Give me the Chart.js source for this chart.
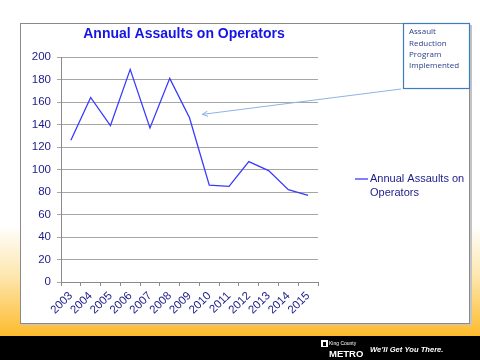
<!DOCTYPE html>
<html>
<head>
<meta charset="utf-8">
<script src="https://cdn.jsdelivr.net/npm/chart.js@4.4.1/dist/chart.umd.min.js"></script>
<style>
  html, body { margin: 0; padding: 0; background: #fff; }
  #wrap { position: relative; width: 480px; height: 360px; }
</style>
</head>
<body>
<div id="wrap"><canvas id="c" width="480" height="360"></canvas></div>
<script>
// ---- data ----
const years = ['2003','2004','2005','2006','2007','2008','2009','2010','2011','2012','2013','2014','2015'];
const assaults = [126, 164, 139, 189, 137, 181, 146, 86, 85, 107, 99, 82, 77];
const seriesLabel = 'Annual Assaults on Operators';
const chartTitle = 'Annual Assaults on Operators';
const legendLines = ['Annual Assaults on', 'Operators'];
const calloutLines = ['Assault', 'Reduction', 'Program', 'Implemented'];
const calloutTarget = { index: 6.65, value: 149 };
const yMin = 0, yMax = 200, yStep = 20;
const footerTagline = 'We\u2019ll Get You There.';

const NAVY = '#1c1c8a';
const LINE = '#3a3aff';

const slidePlugin = {
  id: 'slide',
  beforeDraw(chart) {
    const ctx = chart.ctx;
    ctx.save();
    // background gradient
    ctx.fillStyle = '#ffffff';
    ctx.fillRect(0, 0, 480, 360);
    const g = ctx.createLinearGradient(0, 225, 0, 336);
    g.addColorStop(0, 'rgba(255,255,255,1)');
    g.addColorStop(0.45, '#fde7b0');
    g.addColorStop(1, '#fdbb2c');
    ctx.fillStyle = g;
    ctx.fillRect(0, 225, 480, 111);
    // black band
    ctx.fillStyle = '#000';
    ctx.fillRect(0, 336, 480, 24);
    // chart frame shadow
    ctx.fillStyle = '#c4c4c4';
    ctx.fillRect(22, 25, 450, 300);
    // chart frame
    ctx.fillStyle = '#fff';
    ctx.fillRect(20.5, 23.5, 449, 300);
    ctx.strokeStyle = '#8a8a8a';
    ctx.lineWidth = 1;
    ctx.strokeRect(20.5, 23.5, 449, 300);
    // title
    ctx.fillStyle = '#1414e6';
    ctx.font = 'bold 14px "Liberation Sans", Arial, sans-serif';
    ctx.textAlign = 'center';
    ctx.textBaseline = 'middle';
    ctx.fillText(chartTitle, 184, 34);
    // footer
    ctx.fillStyle = '#fff';
    ctx.fillRect(321, 340, 7, 7);
    ctx.fillStyle = '#000';
    ctx.fillRect(323, 342, 3, 4);
    ctx.fillStyle = '#fff';
    ctx.textAlign = 'left';
    ctx.textBaseline = 'middle';
    ctx.font = '5px "Liberation Sans", Arial, sans-serif';
    ctx.fillText('King County', 329, 344);
    ctx.font = 'bold 9.5px "Liberation Sans", Arial, sans-serif';
    ctx.fillText('METRO', 329, 354);
    ctx.font = 'italic bold 7.6px "Liberation Sans", Arial, sans-serif';
    ctx.fillText(footerTagline, 370, 350);
    ctx.restore();
  },
  afterDraw(chart) {
    const ctx = chart.ctx;
    const xs = chart.scales.x, ys = chart.scales.y;
    ctx.save();
    // legend
    const ds = chart.data.datasets[0];
    const ly = 179;
    ctx.strokeStyle = ds.borderColor;
    ctx.lineWidth = 1.3;
    ctx.beginPath();
    ctx.moveTo(355, ly);
    ctx.lineTo(368, ly);
    ctx.stroke();
    ctx.fillStyle = NAVY;
    ctx.font = '11px "Liberation Sans", Arial, sans-serif';
    ctx.textAlign = 'left';
    ctx.textBaseline = 'middle';
    legendLines.forEach((t, i) => ctx.fillText(t, 370, ly + i * 13.5));
    // callout arrow
    const p0 = xs.getPixelForValue(Math.floor(calloutTarget.index));
    const p1 = xs.getPixelForValue(Math.floor(calloutTarget.index) + 1);
    const tx = p0 + (p1 - p0) * (calloutTarget.index % 1);
    const ty = ys.getPixelForValue(calloutTarget.value);
    const sx = 401, sy = 89;
    ctx.strokeStyle = '#8fb3e6';
    ctx.lineWidth = 1;
    ctx.beginPath();
    ctx.moveTo(sx, sy);
    ctx.lineTo(tx, ty);
    ctx.stroke();
    const ang = Math.atan2(sy - ty, sx - tx);
    ctx.beginPath();
    ctx.moveTo(tx + 6 * Math.cos(ang - 0.45), ty + 6 * Math.sin(ang - 0.45));
    ctx.lineTo(tx, ty);
    ctx.lineTo(tx + 6 * Math.cos(ang + 0.45), ty + 6 * Math.sin(ang + 0.45));
    ctx.stroke();
    // callout box
    ctx.fillStyle = '#fff';
    ctx.fillRect(403, 23, 67, 65);
    ctx.strokeStyle = '#3d7cc0';
    ctx.lineWidth = 1.2;
    ctx.strokeRect(403.5, 23.5, 66, 65);
    ctx.fillStyle = '#2a3f86';
    ctx.font = '8px "Open Sans", "Liberation Sans", sans-serif';
    ctx.textBaseline = 'middle';
    calloutLines.forEach((t, i) => ctx.fillText(t, 409, 32 + i * 11.3));
    ctx.restore();
  }
};

new Chart(document.getElementById('c'), {
  type: 'line',
  data: {
    labels: years,
    datasets: [{
      label: seriesLabel,
      data: assaults,
      borderColor: LINE,
      borderWidth: 1.3,
      pointRadius: 0,
      tension: 0,
      fill: false
    }]
  },
  options: {
    responsive: false,
    devicePixelRatio: 1,
    animation: false,
    layout: { padding: { left: 0, top: 57, right: 162, bottom: 0 } },
    plugins: {
      legend: { display: false },
      title: { display: false },
      tooltip: { enabled: false }
    },
    scales: {
      x: {
        offset: true,
        afterFit(s) { s.height = 78; },
        grid: { display: true, drawOnChartArea: false, drawTicks: true, tickLength: 4, offset: true, color: '#8a8a8a' },
        border: { display: true, color: '#8a8a8a', width: 1 },
        ticks: {
          color: NAVY,
          font: { family: '"Liberation Sans", Arial, sans-serif', size: 11.5 },
          minRotation: 45, maxRotation: 45,
          autoSkip: false,
          padding: 3
        }
      },
      y: {
        min: yMin, max: yMax,
        afterFit(s) { s.width = 61; },
        grid: { color: '#a6a6a6', lineWidth: 1, drawTicks: true, tickLength: 4 },
        border: { display: true, color: '#8a8a8a', width: 1 },
        ticks: {
          stepSize: yStep,
          color: NAVY,
          font: { family: '"Liberation Sans", Arial, sans-serif', size: 11.5 },
          padding: 6
        }
      }
    }
  },
  plugins: [slidePlugin]
});
</script>
</body>
</html>
